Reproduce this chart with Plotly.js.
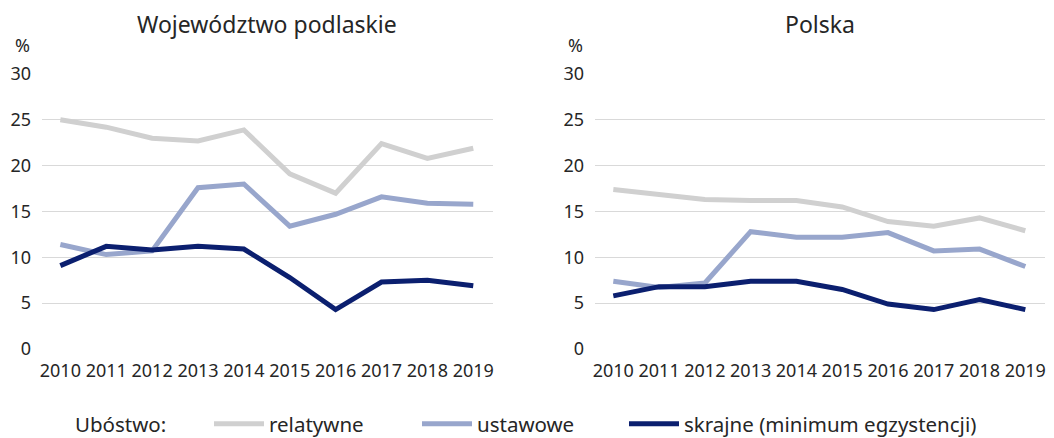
<!DOCTYPE html>
<html>
<head>
<meta charset="utf-8">
<script src="https://cdn.plot.ly/plotly-3.0.1.min.js"></script>
<style>html,body{margin:0;padding:0;background:#fff;}#chart{width:1054px;height:438px;}</style>
</head>
<body>
<div id="chart"></div>
<script>
const years = ['2010','2011','2012','2013','2014','2015','2016','2017','2018','2019'];
const seriesNames = ['relatywne', 'ustawowe', 'skrajne (minimum egzystencji)'];
const podlaskieRelatywne = [25.0, 24.2, 23.0, 22.7, 23.9, 19.1, 17.0, 22.4, 20.8, 21.9];
const podlaskieUstawowe  = [11.4, 10.3, 10.7, 17.6, 18.0, 13.4, 14.7, 16.6, 15.9, 15.8];
const podlaskieSkrajne   = [9.1, 11.2, 10.8, 11.2, 10.9, 7.8, 4.3, 7.3, 7.5, 6.9];
const polskaRelatywne = [17.4, 16.9, 16.3, 16.2, 16.2, 15.5, 13.9, 13.4, 14.3, 12.9];
const polskaUstawowe  = [7.4, 6.7, 7.2, 12.8, 12.2, 12.2, 12.7, 10.7, 10.9, 9.0];
const polskaSkrajne   = [5.8, 6.8, 6.8, 7.4, 7.4, 6.5, 4.9, 4.3, 5.4, 4.3];
const panelTitles = ['Województwo podlaskie', 'Polska'];
const legendLabel = 'Ubóstwo:';
const yTicks = [0, 5, 10, 15, 20, 25, 30];

const colors = ['#d0d0d0', '#98a6cc', '#0b1f6f'];
const FONT = 'Noto Sans, Open Sans, sans-serif';
const TXT = '#262626';
const W = 1054, H = 438;
const py = px => 1 - px / H;
const pxx = px => px / W;

const panels = [
  [podlaskieRelatywne, podlaskieUstawowe, podlaskieSkrajne],
  [polskaRelatywne, polskaUstawowe, polskaSkrajne]
];
const legendIds = ['legend', 'legend2', 'legend3'];
const traces = [];
panels.forEach((p, pi) => {
  p.forEach((vals, si) => {
    traces.push({
      type: 'scatter', mode: 'lines',
      x: years, y: vals,
      name: seriesNames[si],
      legendgroup: 's' + si,
      legend: legendIds[si],
      showlegend: pi === 0,
      line: {color: colors[si], width: 5},
      xaxis: pi === 0 ? 'x' : 'x2',
      yaxis: pi === 0 ? 'y' : 'y2',
      hoverinfo: 'x+y'
    });
  });
});

const xCommon = {
  type: 'category', range: [-0.4, 9.43], showgrid: false, zeroline: false,
  showline: false, ticks: '', ticklabelstandoff: 9,
  tickfont: {family: FONT, size: 18, color: TXT},
  fixedrange: true, automargin: false
};
const yCommon = {
  range: [0, 30], tickvals: yTicks, ticktext: yTicks.map(String),
  showgrid: true, gridcolor: '#d9d9d9', gridwidth: 1, zeroline: false,
  showline: false, ticks: '', ticklabelstandoff: 10,
  tickfont: {family: FONT, size: 18, color: TXT}, fixedrange: true, automargin: false,
  domain: [py(349), py(74)]
};

const LEG_Y = 424;
function legendAt(xpx) {
  return {
    orientation: 'h', x: pxx(xpx), xanchor: 'left', y: py(LEG_Y), yanchor: 'middle',
    font: {family: FONT, size: 20.5, color: TXT},
    itemwidth: 50, borderwidth: 0,
    bgcolor: 'rgba(0,0,0,0)'
  };
}

const layout = {
  width: W, height: H,
  margin: {l: 0, r: 0, t: 0, b: 0, autoexpand: false},
  paper_bgcolor: '#fff', plot_bgcolor: '#fff',
  font: {family: FONT, color: TXT},
  xaxis: Object.assign({}, xCommon, {domain: [pxx(42), pxx(493)], anchor: 'y'}),
  xaxis2: Object.assign({}, xCommon, {domain: [pxx(595), pxx(1045)], anchor: 'y2'}),
  yaxis: Object.assign({}, yCommon, {anchor: 'x'}),
  yaxis2: Object.assign({}, yCommon, {anchor: 'x2'}),
  showlegend: true,
  legend: legendAt(209),
  legend2: legendAt(417),
  legend3: legendAt(624),
  annotations: [
    {text: panelTitles[0], xref: 'paper', yref: 'paper', x: pxx(267), y: py(24), xanchor: 'center', yanchor: 'middle', showarrow: false, font: {family: FONT, size: 23, color: TXT}},
    {text: panelTitles[1], xref: 'paper', yref: 'paper', x: pxx(820), y: py(24), xanchor: 'center', yanchor: 'middle', showarrow: false, font: {family: FONT, size: 23, color: TXT}},
    {text: '%', xref: 'paper', yref: 'paper', x: pxx(22), y: py(45), xanchor: 'center', yanchor: 'middle', showarrow: false, font: {family: FONT, size: 18, color: TXT}},
    {text: '%', xref: 'paper', yref: 'paper', x: pxx(575), y: py(45), xanchor: 'center', yanchor: 'middle', showarrow: false, font: {family: FONT, size: 18, color: TXT}},
    {text: legendLabel, xref: 'paper', yref: 'paper', x: pxx(75), y: py(LEG_Y), xanchor: 'left', yanchor: 'middle', showarrow: false, xshift: -2, font: {family: FONT, size: 20.5, color: TXT}}
  ]
};

Plotly.newPlot('chart', traces, layout, {displayModeBar: false, staticPlot: true});
</script>
</body>
</html>
